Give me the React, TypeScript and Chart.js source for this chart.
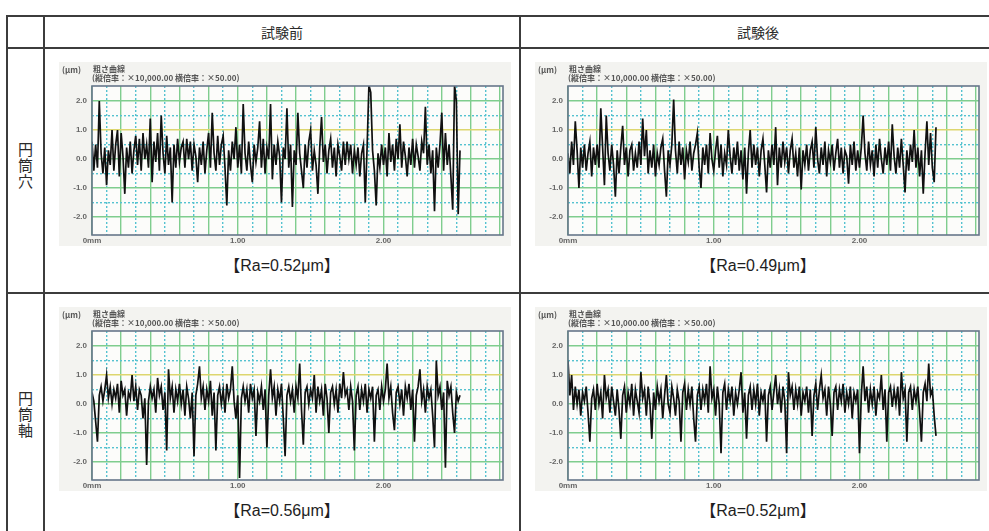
import { useEffect, useRef } from 'react';
import { Chart, registerables } from 'chart.js';

Chart.register(...registerables);

// ---------- data ----------
const COLUMN_HEADERS = ['試験前', '試験後'];
const ROW_HEADERS = ['円筒穴', '円筒軸'];
const RA_LABELS = [
  ['【Ra=0.52μm】', '【Ra=0.49μm】'],
  ['【Ra=0.56μm】', '【Ra=0.52μm】'],
];
const CHART_TITLE_UNIT = '(μm)';
const CHART_TITLE = '粗さ曲線';
const CHART_SUBTITLE = '(縦倍率：×10,000.00 横倍率：×50.00)';

const SAMPLE_STEP_MM = 0.0125;
const X_MAX_MM = 2.82;
const Y_MIN = -2.62;
const Y_MAX = 2.52;
const X_TICK_VALUES = [0, 1, 2];
const X_TICK_LABELS = ['0mm', '1.00', '2.00'];
const Y_TICK_VALUES = [2, 1, 0, -1, -2];
const Y_TICK_LABELS = ['2.0', '1.0', '0.0', '-1.0', '-2.0'];
const Y_GRID = [-2, -1.5, -1, -0.5, 0, 0.5, 1, 1.5, 2];
const X_GRID_COUNT = 29; // 0.0 .. 2.8 mm every 0.1 mm

// 円筒穴 試験前
const HOLE_BEFORE = [
  0.6, -0.4, 0.5, -0.3, 2.0, 0.2, -0.5, 0.4, -0.9, 0.3,
  -0.2, 1.0, -0.4, 0.5, 1.0, -0.6, 0.9, 0.1, -1.2, 0.4,
  -0.3, 0.6, -0.5, 0.3, 0.8, -0.2, 0.7, -0.4, 0.9, 0.0,
  0.5, -0.3, 1.4, -0.8, 0.6, -0.1, 0.9, -0.4, 1.5, 0.2,
  -0.5, 0.8, -0.2, 0.4, -1.5, 0.5, -0.3, 0.7, -0.1, 0.4,
  0.6, -0.3, 0.7, 0.0, 0.6, -0.4, 0.5, 0.1, -0.8, 0.4,
  -0.2, 0.6, -0.5, 0.3, 0.9, -0.3, 1.6, 0.2, -0.4, 0.8,
  -0.2, 0.5, 0.8, -0.3, -1.6, 0.3, -0.4, 0.6, 0.0, 1.1,
  -0.3, 0.5, -0.5, 1.9, 0.2, -0.4, 0.6, -0.2, -0.8, 0.5,
  -0.1, 0.4, 1.3, -0.3, 0.7, -0.5, 0.4, 0.0, 1.9, -0.7,
  0.5, -0.2, 0.6, 0.1, -1.5, 0.4, 0.0, 1.75, -0.3, 0.5,
  -1.65, 0.3, -0.2, 1.6, 0.2, -0.4, -1.0, 0.5, -0.3, 0.6,
  1.0, -0.4, 0.3, -0.2, -1.2, 0.4, 1.45, -0.1, 0.5, -0.5,
  0.3, 0.7, -0.3, 0.4, -0.6, 0.5, 0.1, -0.4, 0.6, -0.2,
  0.6, 0.0, 0.5, -0.5, 0.3, -0.2, 0.4, -0.6, 0.2, 0.5,
  -1.5, 0.4, 2.55, 2.3, 0.3, -0.4, -1.6, 0.2, -0.3, 0.5,
  -0.2, 0.4, -0.6, 0.9, -0.1, 0.5, -0.4, 0.7, 0.0, 1.2,
  -0.3, 0.6, 0.1, -0.6, 0.4, -0.2, 0.7, -0.3, 0.5, 0.1,
  -0.4, 0.6, 0.2, 1.8, -0.2, 0.5, -0.5, 0.3, -1.8, 0.4,
  -0.3, 0.5, 1.6, -0.4, 0.9, -0.2, 0.5, -0.6, -1.75, 2.55,
  2.0, -1.9, 0.3,
];

// 円筒穴 試験後
const HOLE_AFTER = [
  0.2, -0.5, 0.6, -0.2, 1.3, 0.3, -1.0, 0.4, -0.3, 0.5,
  -0.4, 0.2, 0.6, -0.6, 0.4, -0.2, 0.5, -0.3, 1.75, 0.4,
  -0.9, 1.5, 0.2, -0.4, 0.5, -0.2, -1.3, 0.3, -0.5, 0.4,
  1.15, -0.2, 0.4, -0.6, 0.3, 0.5, -0.4, 0.2, -0.3, 0.6,
  -0.2, 1.4, 0.1, 1.0, -0.5, 0.3, -0.3, 0.5, -0.6, 0.2,
  -0.2, 0.4, 0.7, -0.4, -1.3, 0.3, -0.2, 0.5, 2.05, 0.3,
  -0.5, 0.6, -0.2, 0.4, -0.7, 0.3, -0.1, 0.6, -0.4, 0.2,
  0.5, 0.9, -0.3, -1.0, 0.4, -0.2, 0.5, -0.5, 0.9, 0.0,
  -0.4, 0.3, 0.8, -0.3, 0.5, -0.6, 0.2, -0.2, 1.0, 0.1,
  -0.5, 0.4, -0.2, 0.6, -0.4, 0.3, -0.7, 0.4, -1.2, 0.2,
  1.0, -0.3, 0.5, -0.2, 0.4, -0.6, 0.3, 0.7, -0.2, -1.15,
  0.3, -0.3, 0.5, -0.2, 1.1, -0.9, 0.4, -0.3, 0.6, -0.1,
  0.4, -0.5, 0.3, 0.7, -0.3, 0.2, -0.6, 0.4, -1.05, 0.3,
  -0.2, 0.5, -0.4, 0.3, 0.6, -0.3, 1.1, 0.0, -0.5, 0.4,
  -0.2, 0.6, -0.6, 0.3, -0.1, 0.5, -0.4, 0.2, 0.7, -0.3,
  0.4, -0.5, 0.3, 0.1, -0.85, 0.5, -0.2, 0.6, -0.4, 0.3,
  -0.3, 0.4, 1.5, 0.2, -0.4, 0.6, -0.2, 0.3, -0.6, 0.5,
  -0.3, 0.7, 0.0, -0.5, 0.4, -0.2, 0.6, -0.4, 1.2, 0.1,
  -0.5, 0.4, -0.3, 0.7, -0.2, -1.15, 0.3, -0.4, 0.5, -0.1,
  1.0, -0.3, 0.4, -0.6, 0.3, -1.2, 0.2, 1.3, -0.2, 0.9,
  -0.3, -0.8, 1.1,
];

// 円筒軸 試験前
const SHAFT_BEFORE = [
  0.4, 0.1, -0.6, -1.3, 0.3, 0.6, 0.1, 0.5, 1.0, 0.2,
  0.6, 0.0, 0.5, 0.2, 0.7, -0.3, 0.8, 0.3, 0.5, -0.4,
  0.4, 0.2, 1.0, 0.1, 0.6, -0.2, 0.5, 0.3, -0.5, 0.2,
  -2.1, 0.1, 0.6, 0.2, 0.5, -0.3, 0.9, 0.3, 0.6, -0.2,
  0.4, -1.6, 1.2, 0.2, 0.6, -0.3, 0.5, 0.1, 0.7, 0.0,
  0.5, -0.4, 0.6, 0.2, -0.5, 0.4, -1.8, 0.3, 0.7, 1.3,
  0.2, 0.6, -0.2, 0.5, 0.1, 0.8, -0.4, 0.4, -1.6, 0.3,
  0.6, 0.0, 0.5, -0.3, 0.7, 0.2, 0.5, 1.3, 0.1, -0.5,
  0.3, -2.55, 0.2, 0.6, 0.1, 0.5, -0.3, 0.7, 0.2, 0.5,
  -1.1, 0.4, 0.1, 0.6, -0.2, 0.5, -1.5, 0.3, 1.2, 0.2,
  0.6, -0.4, 0.5, 0.1, 0.7, -0.5, -1.8, 0.3, 0.6, 0.1,
  0.5, -0.3, 0.6, 0.2, 1.4, -0.2, -1.4, 0.4, 0.6, 0.0,
  0.5, 0.2, 1.0, -0.3, 0.6, 0.1, 0.5, -0.4, 0.7, 0.2,
  -1.0, 0.4, 0.6, 0.0, 0.5, -0.3, 0.7, 0.2, 1.1, 0.3,
  0.5, -0.2, 0.6, 0.1, -1.6, 0.3, 0.6, -0.2, 0.5, 0.1,
  0.7, -0.3, 0.5, 0.2, 0.6, -1.3, 0.3, 0.5, -0.2, 0.6,
  0.1, 0.5, 1.4, 0.2, 0.6, -0.3, -0.9, 0.4, 0.6, 0.0,
  0.5, -0.4, 0.6, 0.2, 0.7, -0.2, 0.5, -1.3, 0.3, 0.6,
  1.2, 0.1, 0.5, -0.3, 0.6, 0.2, 0.5, -0.4, -1.5, 1.5,
  0.3, 0.6, -0.2, 0.4, -2.2, 0.8, 0.3, 0.6, -0.3, -1.0,
  0.4, 0.1, 0.3,
];

// 円筒軸 試験後
const SHAFT_AFTER = [
  1.5, 0.3, 1.0, -0.2, 0.6, 0.0, 0.5, -0.4, 0.4, 0.1,
  0.6, -0.3, -1.3, 0.2, 0.5, -0.2, 0.7, 0.0, 0.4, -0.5,
  1.0, 0.2, 0.5, -0.3, 0.6, 0.1, -0.4, 0.5, -0.2, -1.2,
  0.3, 0.6, -0.3, 0.4, 0.0, 0.7, -0.4, 0.5, 0.1, -0.3,
  1.1, 0.2, 0.5, -0.4, 0.6, 0.0, -1.2, 0.4, -0.2, 0.6,
  0.1, 0.5, -0.5, 0.3, 1.0, 0.0, -0.3, 0.6, 0.2, -0.4,
  0.5, 0.1, -1.3, 0.4, 0.7, -0.2, 0.5, 0.0, 0.6, -0.5,
  -1.3, 0.3, 0.6, -0.2, 0.5, 0.1, 0.7, -0.3, 1.3, 0.2,
  0.5, -0.4, 0.6, 0.0, -1.7, 0.4, 0.7, -0.2, 0.5, 0.1,
  0.6, -0.4, 0.4, 0.0, 0.5, 1.1, -0.3, 0.4, -1.2, 0.3,
  0.6, -0.2, 0.5, 0.0, 0.7, -0.4, 0.4, 0.1, 0.5, -1.3,
  0.3, 0.6, -0.2, 0.4, 1.0, 0.0, 0.5, -0.3, 0.6, 0.1,
  -1.7, 1.1, 0.3, 0.6, -0.2, 0.5, 0.0, 0.6, -0.4, 0.4,
  0.1, 0.6, -0.3, 0.5, -1.1, 0.3, 0.7, -0.2, 0.5, 1.0,
  0.2, 0.5, -0.4, 0.6, 0.0, -1.1, 0.4, 0.6, -0.2, 0.5,
  0.1, 0.7, -0.3, 0.4, 0.0, 0.6, -0.5, 0.4, 0.1, 0.5,
  -1.7, 0.3, 1.3, 0.1, 0.6, -0.3, 0.5, 0.0, 0.6, -0.4,
  0.4, 0.2, 1.0, -0.2, 0.5, -1.3, 0.4, 0.6, -0.1, 0.5,
  0.0, 0.6, -0.4, 1.1, 0.2, 0.5, -1.3, 0.4, 0.6, -0.2,
  0.5, 0.1, 0.6, -0.3, -1.3, 0.4, 0.7, 0.1, 1.4, 0.3,
  0.5, -0.4, -1.1,
];

const PROFILES = [
  [HOLE_BEFORE, HOLE_AFTER],
  [SHAFT_BEFORE, SHAFT_AFTER],
];

// ---------- layout ----------
const TABLE_LEFT = 7;
const COL_LINES = [44, 520, 996];
const TABLE_TOP = 16;
const HEAD_BOTTOM = 48;
const ROW_H = 245;
const LINE_W = 2;
const LINE_COLOR = '#3c3c3c';
const CHART_W = 452;
const CHART_H = 184;
const CHART_DX = 15;
const CHART_DY = 14;
const ROW_LABEL_SHIFT = [-6, -2];

const CJK = '"Noto Sans CJK JP", "Noto Sans", sans-serif';

const GREEN = '#7fcd8e';
const CYAN = '#55c2d0';
const YELLOW = '#ddd66e';

const near = (a: number, b: number) => Math.abs(a - b) < 1e-6;

const panelPlugin = {
  id: 'panel',
  beforeDraw(chart: any) {
    const { ctx, chartArea: a, width, height } = chart;
    ctx.save();
    ctx.fillStyle = '#f3f3f0';
    ctx.fillRect(0, 0, width, height);
    ctx.fillStyle = '#fcfcfa';
    ctx.fillRect(a.left, a.top, a.right - a.left, a.bottom - a.top);
    ctx.restore();
  },
  afterDraw(chart: any) {
    const { ctx, chartArea: a } = chart;
    ctx.save();
    ctx.strokeStyle = '#66768a';
    ctx.lineWidth = 1.6;
    ctx.strokeRect(a.left, a.top, a.right - a.left, a.bottom - a.top);
    ctx.restore();
  },
};

function Profile({ values, left, top }: { values: number[]; left: number; top: number }) {
  const ref = useRef<HTMLCanvasElement>(null);
  useEffect(() => {
    const points = values.map((v, i) => ({ x: i * SAMPLE_STEP_MM, y: v }));
    const xGrid = Array.from({ length: X_GRID_COUNT }, (_, i) => i / 10);
    const tickFont = { family: '"Liberation Sans", Arial, sans-serif', size: 8, weight: 'bold' as const };
    const chart = new Chart(ref.current!, {
      type: 'line',
      data: {
        datasets: [
          {
            data: points,
            borderColor: '#101010',
            borderWidth: 1.7,
            pointRadius: 0,
            tension: 0,
            fill: false,
          },
        ],
      },
      options: {
        animation: false,
        responsive: false,
        maintainAspectRatio: false,
        events: [],
        layout: { padding: { top: 24, right: 8, left: 0, bottom: 0 } },
        plugins: { legend: { display: false }, tooltip: { enabled: false }, title: { display: false } },
        scales: {
          x: {
            type: 'linear',
            min: 0,
            max: X_MAX_MM,
            afterBuildTicks: (s: any) => {
              s.ticks = xGrid.map((v) => ({ value: v }));
            },
            afterFit: (s: any) => {
              s.height = 11;
            },
            ticks: {
              autoSkip: false,
              maxRotation: 0,
              padding: 1,
              color: '#666666',
              font: tickFont,
              callback: (v: any) => {
                const k = X_TICK_VALUES.findIndex((t) => near(t, Number(v)));
                return k >= 0 ? X_TICK_LABELS[k] : '';
              },
            },
            grid: {
              drawTicks: false,
              lineWidth: 1.4,
              color: (c: any) => {
                const v = c.tick ? c.tick.value : 0;
                const k = Math.round(v * 10);
                return k % 2 === 0 ? GREEN : CYAN;
              },
            },
            border: {
              display: false,
              dash: (c: any) => {
                const v = c.tick ? c.tick.value : 0;
                const k = Math.round(v * 10);
                return k % 2 === 0 ? [] : [2, 2];
              },
            },
          },
          y: {
            type: 'linear',
            min: Y_MIN,
            max: Y_MAX,
            afterBuildTicks: (s: any) => {
              s.ticks = Y_GRID.map((v) => ({ value: v }));
            },
            afterFit: (s: any) => {
              s.width = 33;
            },
            ticks: {
              autoSkip: false,
              padding: 5,
              color: '#666666',
              font: tickFont,
              callback: (v: any) => {
                const k = Y_TICK_VALUES.findIndex((t) => near(t, Number(v)));
                return k >= 0 ? Y_TICK_LABELS[k] : '';
              },
            },
            grid: {
              drawTicks: false,
              lineWidth: 1.4,
              color: (c: any) => {
                const v = c.tick ? c.tick.value : 0;
                if (near(v, 1)) return YELLOW;
                return near(v, Math.round(v)) ? GREEN : CYAN;
              },
            },
            border: {
              display: false,
              dash: (c: any) => {
                const v = c.tick ? c.tick.value : 0;
                return near(v, Math.round(v)) ? [] : [2, 2];
              },
            },
          },
        },
      },
      plugins: [panelPlugin],
    });
    return () => chart.destroy();
  }, [values]);

  const small = {
    position: 'absolute' as const,
    fontFamily: CJK,
    fontSize: 8,
    fontWeight: 700,
    lineHeight: '9px',
    color: '#555555',
    whiteSpace: 'nowrap' as const,
  };

  return (
    <div style={{ position: 'absolute', left, top, width: CHART_W, height: CHART_H }}>
      <canvas ref={ref} width={CHART_W} height={CHART_H} style={{ display: 'block', width: CHART_W, height: CHART_H }} />
      <div style={{ ...small, left: 3, top: 3 }}>{CHART_TITLE_UNIT}</div>
      <div style={{ ...small, left: 34, top: 2 }}>{CHART_TITLE}</div>
      <div style={{ ...small, left: 33, top: 11 }}>{CHART_SUBTITLE}</div>
    </div>
  );
}

function HLine({ y }: { y: number }) {
  return (
    <div
      style={{
        position: 'absolute',
        left: TABLE_LEFT,
        top: y - LINE_W / 2,
        width: COL_LINES[2] - TABLE_LEFT,
        height: LINE_W,
        background: LINE_COLOR,
      }}
    />
  );
}

function VLine({ x }: { x: number }) {
  return (
    <div
      style={{
        position: 'absolute',
        left: x - LINE_W / 2,
        top: TABLE_TOP - LINE_W / 2,
        width: LINE_W,
        height: 560,
        background: LINE_COLOR,
      }}
    />
  );
}

export default function App() {
  const colBounds = [
    [COL_LINES[0], COL_LINES[1]],
    [COL_LINES[1], COL_LINES[2]],
  ];
  return (
    <div
      style={{
        position: 'absolute',
        left: 0,
        top: 0,
        width: 989,
        height: 531,
        overflow: 'hidden',
        background: '#ffffff',
      }}
    >
      {PROFILES.map((row, r) =>
        row.map((vals, c) => {
          const rowTop = HEAD_BOTTOM + r * ROW_H;
          return (
            <Profile
              key={`p${r}${c}`}
              values={vals}
              left={colBounds[c][0] + CHART_DX}
              top={rowTop + CHART_DY}
            />
          );
        })
      )}

      <HLine y={TABLE_TOP} />
      <HLine y={HEAD_BOTTOM} />
      <HLine y={HEAD_BOTTOM + ROW_H} />
      <HLine y={HEAD_BOTTOM + 2 * ROW_H} />
      <VLine x={TABLE_LEFT} />
      {COL_LINES.map((x) => (
        <VLine key={x} x={x} />
      ))}

      {COLUMN_HEADERS.map((h, c) => (
        <div
          key={h}
          style={{
            position: 'absolute',
            left: colBounds[c][0],
            width: colBounds[c][1] - colBounds[c][0],
            top: TABLE_TOP,
            height: HEAD_BOTTOM - TABLE_TOP,
            display: 'flex',
            alignItems: 'center',
            justifyContent: 'center',
            fontFamily: CJK,
            fontSize: 14,
            color: '#2a2a2a',
          }}
        >
          {h}
        </div>
      ))}

      {ROW_HEADERS.map((h, r) => (
        <div
          key={h}
          style={{
            position: 'absolute',
            left: TABLE_LEFT,
            width: COL_LINES[0] - TABLE_LEFT,
            top: HEAD_BOTTOM + r * ROW_H + ROW_LABEL_SHIFT[r],
            height: ROW_H,
            display: 'flex',
            flexDirection: 'column',
            alignItems: 'center',
            justifyContent: 'center',
            fontFamily: CJK,
            fontSize: 15,
            lineHeight: '16px',
            color: '#2a2a2a',
          }}
        >
          {Array.from(h).map((ch, i) => (
            <div key={i}>{ch}</div>
          ))}
        </div>
      ))}

      {RA_LABELS.map((row, r) =>
        row.map((t, c) => (
          <div
            key={`ra${r}${c}`}
            style={{
              position: 'absolute',
              left: colBounds[c][0],
              width: colBounds[c][1] - colBounds[c][0],
              top: HEAD_BOTTOM + r * ROW_H + 208,
              height: 20,
              lineHeight: '20px',
              textAlign: 'center',
              fontFamily: '"Liberation Sans", Arial, "Noto Sans CJK JP", sans-serif',
              fontSize: 16,
              color: '#1e1e1e',
              whiteSpace: 'nowrap',
            }}
          >
            {t}
          </div>
        ))
      )}
    </div>
  );
}
